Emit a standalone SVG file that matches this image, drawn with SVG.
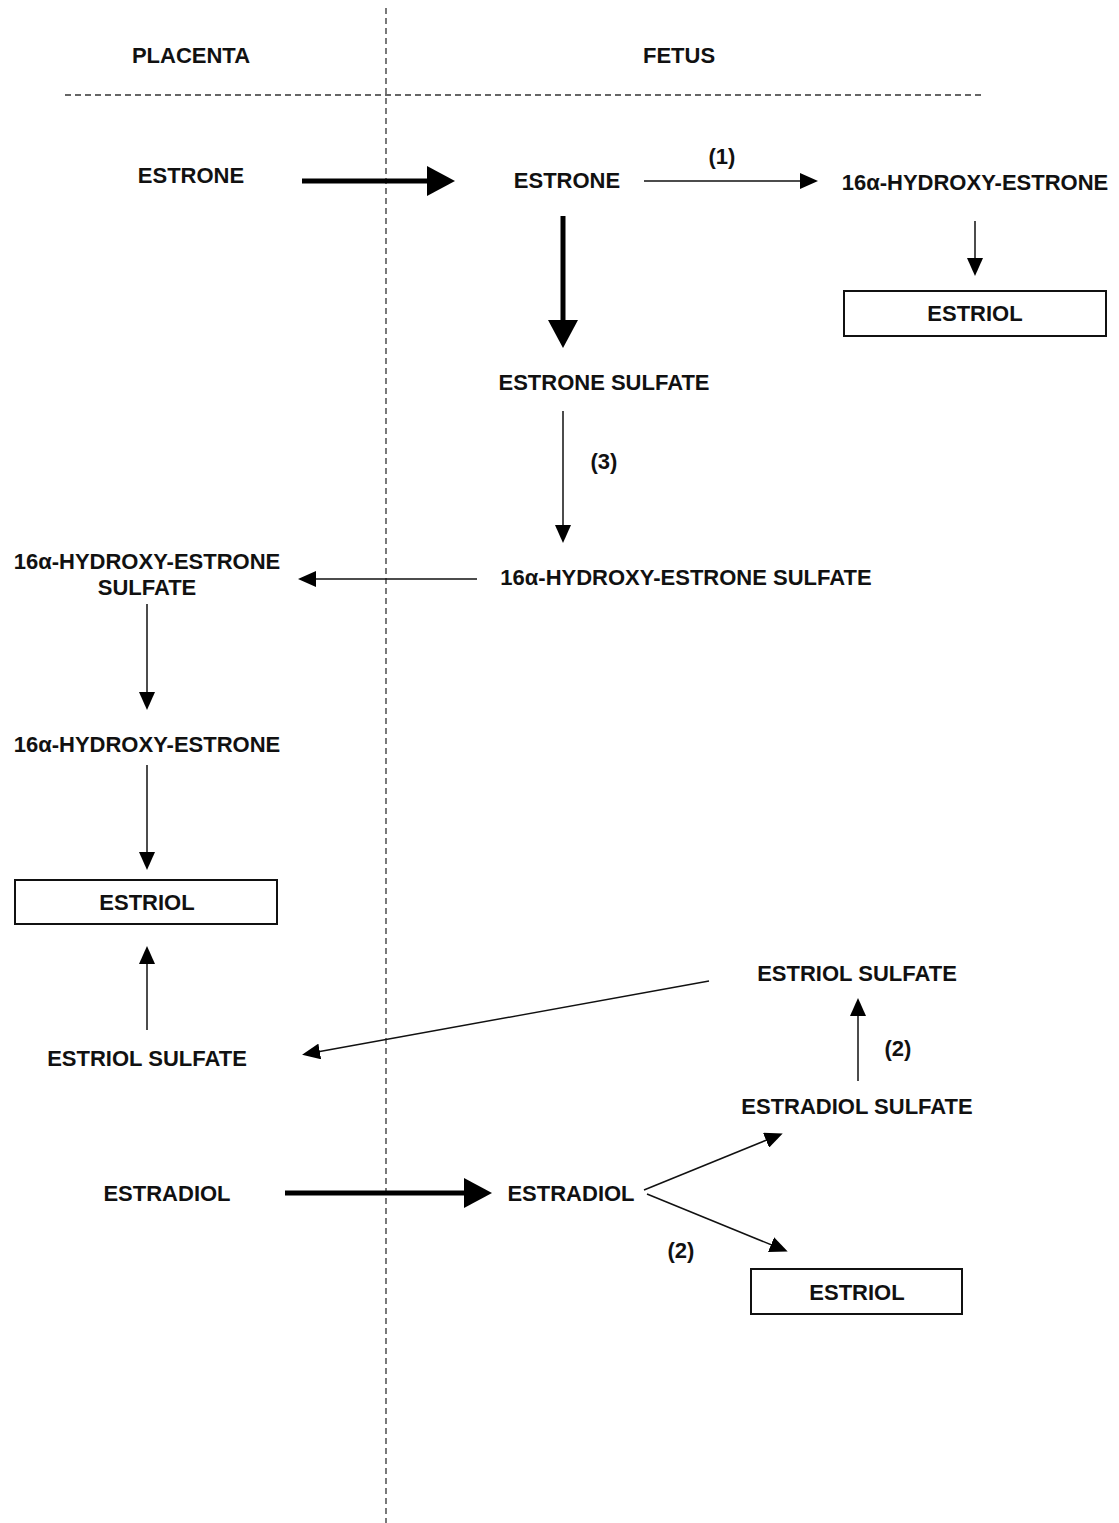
<svg xmlns="http://www.w3.org/2000/svg" width="1119" height="1523" viewBox="0 0 1119 1523">
<style>
text{font-family:"Liberation Sans",Arial,sans-serif;font-weight:bold;font-size:22px;fill:#111;text-anchor:middle}
.thin{stroke:#111;stroke-width:1.5;fill:none}
.thick{stroke:#000;stroke-width:5;fill:none}
.box{fill:#fff;stroke:#111;stroke-width:2}
.dash{stroke:#333;stroke-width:1.3;stroke-dasharray:6,4;fill:none}
</style>
<defs>
<marker id="ah" markerUnits="userSpaceOnUse" markerWidth="20" markerHeight="16" refX="14" refY="8" orient="auto"><path d="M0,0 L18,8 L0,16 Z" fill="#000"/></marker>
<marker id="ahb" markerUnits="userSpaceOnUse" markerWidth="30" markerHeight="30" refX="12" refY="15" orient="auto"><path d="M0,0 L28,15 L0,30 Z" fill="#000"/></marker>
</defs>
<g id="dividers">
<line class="dash" x1="386" y1="8" x2="386" y2="1523"/>
<line class="dash" x1="65" y1="95" x2="982" y2="95"/>
</g>
<g id="headers">
<text x="191" y="63">PLACENTA</text>
<text x="679" y="63">FETUS</text>
</g>
<g id="connectors">
<line class="thick" x1="302" y1="181" x2="439" y2="181" marker-end="url(#ahb)"/>
<line class="thin" x1="644" y1="181" x2="814" y2="181" marker-end="url(#ah)"/>
<line class="thick" x1="563" y1="216" x2="563" y2="332" marker-end="url(#ahb)"/>
<line class="thin" x1="975" y1="221" x2="975" y2="272" marker-end="url(#ah)"/>
<line class="thin" x1="563" y1="411" x2="563" y2="539" marker-end="url(#ah)"/>
<line class="thin" x1="477" y1="579" x2="302" y2="579" marker-end="url(#ah)"/>
<line class="thin" x1="147" y1="604" x2="147" y2="706" marker-end="url(#ah)"/>
<line class="thin" x1="147" y1="765" x2="147" y2="866" marker-end="url(#ah)"/>
<line class="thin" x1="147" y1="1030" x2="147" y2="950" marker-end="url(#ah)"/>
<line class="thin" x1="709" y1="981" x2="306" y2="1054" marker-end="url(#ah)"/>
<line class="thin" x1="858" y1="1081" x2="858" y2="1002" marker-end="url(#ah)"/>
<line class="thick" x1="285" y1="1193" x2="476" y2="1193" marker-end="url(#ahb)"/>
<line class="thin" x1="644" y1="1190" x2="779" y2="1135" marker-end="url(#ah)"/>
<line class="thin" x1="647" y1="1194" x2="784" y2="1250" marker-end="url(#ah)"/>
</g>
<g id="labels">
<text x="722" y="164">(1)</text>
<text x="604" y="469">(3)</text>
<text x="898" y="1056">(2)</text>
<text x="681" y="1258">(2)</text>
</g>
<g id="placenta-estrone"><text x="191" y="183">ESTRONE</text></g>
<g id="fetus-estrone"><text x="567" y="188">ESTRONE</text></g>
<g id="fetus-16oh-estrone"><text x="975" y="190">16α-HYDROXY-ESTRONE</text></g>
<g id="fetus-estriol-1"><rect class="box" x="844" y="291" width="262" height="45"/><text x="975" y="321">ESTRIOL</text></g>
<g id="fetus-estrone-sulfate"><text x="604" y="390">ESTRONE SULFATE</text></g>
<g id="fetus-16oh-estrone-sulfate"><text x="686" y="585">16α-HYDROXY-ESTRONE SULFATE</text></g>
<g id="placenta-16oh-estrone-sulfate"><text x="147" y="569">16α-HYDROXY-ESTRONE</text><text x="147" y="595">SULFATE</text></g>
<g id="placenta-16oh-estrone"><text x="147" y="752">16α-HYDROXY-ESTRONE</text></g>
<g id="placenta-estriol"><rect class="box" x="15" y="880" width="262" height="44"/><text x="147" y="910">ESTRIOL</text></g>
<g id="placenta-estriol-sulfate"><text x="147" y="1066">ESTRIOL SULFATE</text></g>
<g id="fetus-estriol-sulfate"><text x="857" y="981">ESTRIOL SULFATE</text></g>
<g id="fetus-estradiol-sulfate"><text x="857" y="1114">ESTRADIOL SULFATE</text></g>
<g id="placenta-estradiol"><text x="167" y="1201">ESTRADIOL</text></g>
<g id="fetus-estradiol"><text x="571" y="1201">ESTRADIOL</text></g>
<g id="fetus-estriol-2"><rect class="box" x="751" y="1269" width="211" height="45"/><text x="857" y="1300">ESTRIOL</text></g>
</svg>
